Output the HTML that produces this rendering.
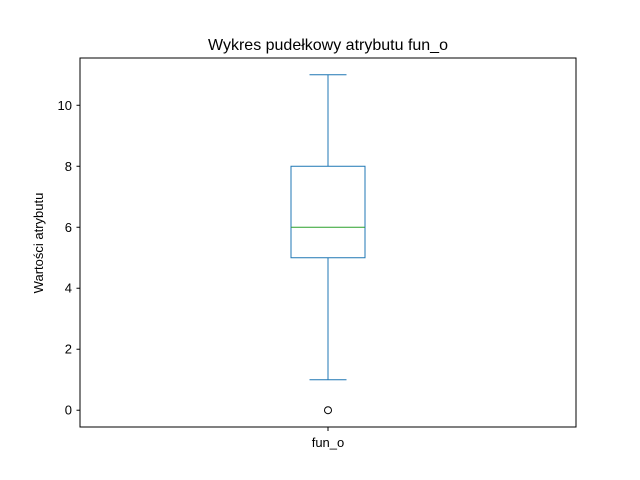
<!DOCTYPE html>
<html><head><meta charset="utf-8"><style>body{margin:0;background:#fff}svg{display:block;font-family:"Liberation Sans","DejaVu Sans",sans-serif}</style></head>
<body>
<svg id="c" width="640" height="480">
<rect width="640" height="480" fill="#fff"/>
<text x="328" y="50" text-anchor="middle" font-size="16">Wykres pudełkowy atrybutu fun_o</text>
<text transform="translate(43,243) rotate(-90)" text-anchor="middle" font-size="13">Wartości atrybutu</text>
<g id="ticks"></g><g id="marks"></g>
<rect x="80" y="58" width="496" height="369" fill="none" stroke="#000" stroke-width="1"/>
</svg>
<script>
const categories=["fun_o"];
const q1=[5],median=[6],q3=[8],whiskLo=[1],whiskHi=[11];
const outliers=[[0]];
const yTicks=[0,2,4,6,8,10];
const ymin=-0.55,ymax=11.55,plotTop=58,plotBot=427;
const y=v=>plotBot-(v-ymin)/(ymax-ymin)*(plotBot-plotTop);
const x=i=>80+496*(i+0.5)/categories.length;
const NS="http://www.w3.org/2000/svg";
function mk(t,a,p){const e=document.createElementNS(NS,t);for(const k in a)e.setAttribute(k,a[k]);p.appendChild(e);return e;}
const T=document.getElementById('ticks'),M=document.getElementById('marks');
yTicks.forEach(v=>{const yy=y(v);
const l=mk('line',{x1:76.5,x2:80,y1:yy,y2:yy,stroke:'#000'},T);


const t=mk('text',{x:72,y:yy+4.5,'text-anchor':'end','font-size':13},T);t.textContent=v;

});
categories.forEach((c,i)=>{const cx=x(i),c0='#1f77b4';
const tk=mk('line',{x1:cx,x2:cx,y1:427,y2:431,stroke:'#000'},T);


const tl=mk('text',{x:cx,y:447,'text-anchor':'middle','font-size':13},T);tl.textContent=c;


const b=mk('rect',{x:cx-37,y:y(q3[i]),width:74,height:y(q1[i])-y(q3[i]),fill:'none',stroke:c0},M);


const md=mk('line',{x1:cx-37,x2:cx+37,y1:y(median[i]),y2:y(median[i]),stroke:'#2ca02c'},M);


[[q1[i],whiskLo[i]],[q3[i],whiskHi[i]]].forEach(([a,bv])=>{
const w=mk('line',{x1:cx,x2:cx,y1:y(a),y2:y(bv),stroke:c0},M);


const cp=mk('line',{x1:cx-18.5,x2:cx+18.5,y1:y(bv),y2:y(bv),stroke:c0},M);

});
outliers[i].forEach(v=>{const o=mk('circle',{cx:cx,cy:y(v),r:3.5,fill:'none',stroke:'#000'},M);

});
});
</script>
</body></html>
